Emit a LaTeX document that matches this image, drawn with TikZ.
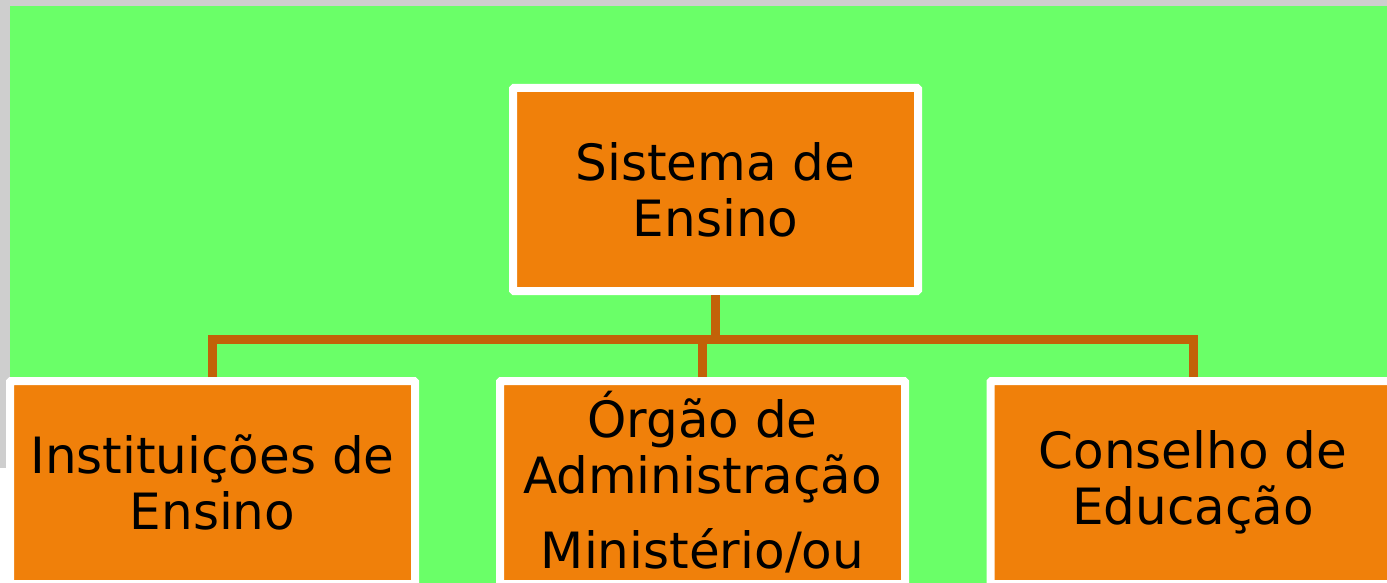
\documentclass[tikz,border=0pt]{standalone}
\usepackage{fontspec}
\setmainfont{DejaVu Sans}
\definecolor{bggreen}{RGB}{106,255,104}
\definecolor{boxorange}{RGB}{240,128,10}
\definecolor{linkbrown}{RGB}{194,98,8}
\definecolor{framegray}{RGB}{206,206,206}

\begin{document}
\begin{tikzpicture}
[x=1pt,y=-1pt,%
  every node/.style={shape=rectangle,inner sep=0pt,align=center,
    font={\fontsize{50pt}{56pt}\selectfont}},%
  unit/.style={fill=boxorange,draw=white,line width=8pt,rounded corners=1pt,
    minimum width=405pt,minimum height=203pt},%
  link/.style={draw=linkbrown,line width=9pt}]
\path[use as bounding box,clip] (0,0) rectangle (1387,583);
\fill[white] (0,0) rectangle (1387,583);
\fill[framegray] (0,0) rectangle (1387,468);
\fill[bggreen] (10,6) rectangle (1387,583);
\node[unit] (sistema) at (715.5,189.5) {Sistema de\\Ensino};
\node[unit] (inst) at (212.5,482.5) {Instituições de\\Ensino};
\node[unit] (orgao) at (702.5,482.5) {Órgão de\\Administração\\[19pt]Ministério/ou};
\node[unit] (cons) at (1193,482.5) {Conselho de\\Educação};
\coordinate (bus) at (715.5,339);
\draw[link] (sistema.south) -- (bus);
\draw[link] (inst.north) |- (bus);
\draw[link] (orgao.north) -- (orgao.north |- bus);
\draw[link] (cons.north) |- (bus);
\end{tikzpicture}
\end{document}
